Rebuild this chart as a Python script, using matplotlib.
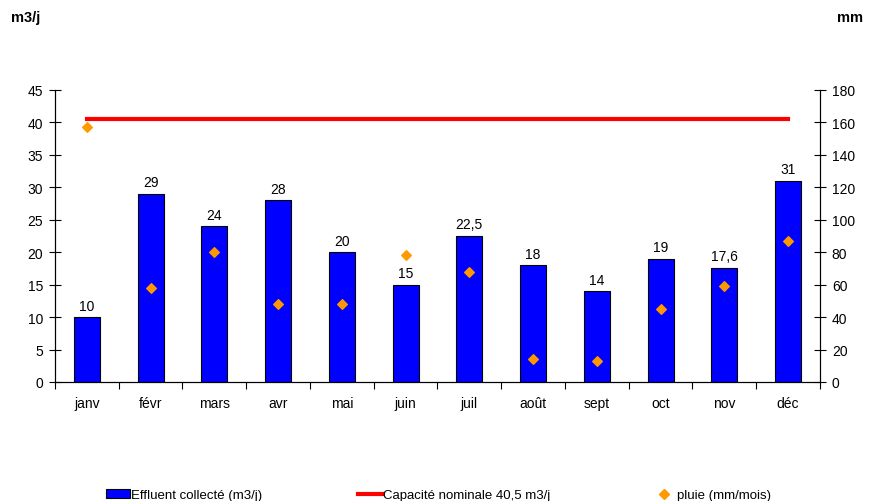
import numpy as np
import matplotlib.pyplot as plt
from matplotlib.lines import Line2D
from matplotlib.patches import Patch

plt.rcParams['font.family'] = ['Liberation Sans', 'DejaVu Sans']

mois = ['janv', 'févr', 'mars', 'avr', 'mai', 'juin', 'juil', 'août', 'sept', 'oct', 'nov', 'déc']
effluent = [10, 29, 24, 28, 20, 15, 22.5, 18, 14, 19, 17.6, 31]
etiquettes = ['10', '29', '24', '28', '20', '15', '22,5', '18', '14', '19', '17,6', '31']
pluie = [157, 58, 80, 48, 48, 78, 68, 14, 13, 45, 59, 87]
capacite = 40.5

fig = plt.figure(figsize=(8.7, 5.02), dpi=100)
ax = fig.add_axes([55 / 870, 1 - 383 / 502, 765 / 870, 292 / 502])
ax2 = ax.twinx()

x = np.arange(len(mois))
ax.bar(x, effluent, width=0.41, color='#0000FF', edgecolor='black', linewidth=0.8, zorder=2)
for xi, v, lab in zip(x, effluent, etiquettes):
    ax.text(xi, v + 0.7, lab, ha='center', va='bottom', fontsize=10)
ax.plot([x[0], x[-1]], [capacite, capacite], color='#FF0000', linewidth=3, zorder=3)
ax2.scatter(x, pluie, marker='D', s=24, color='#FF9900', zorder=4)

ax.set_xlim(-0.5, len(mois) - 0.5)
ax.set_ylim(0, 45)
ax2.set_ylim(0, 180)
ax.set_yticks(np.arange(0, 46, 5))
ax2.set_yticks(np.arange(0, 181, 20))

ax.set_xticks(x)
ax.set_xticklabels(mois, fontsize=10)
ax.set_xticks(np.arange(-0.5, len(mois)), minor=True)
ax.tick_params(axis='x', which='major', length=0, pad=10)
ax.tick_params(axis='x', which='minor', length=5, direction='out', width=0.8)
ax.tick_params(axis='y', direction='inout', length=9, width=0.8, labelsize=10, pad=4)
ax2.tick_params(axis='y', direction='inout', length=9, width=0.8, labelsize=10, pad=4)

for a in (ax, ax2):
    a.spines['top'].set_visible(False)
    for s in ('left', 'right', 'bottom'):
        a.spines[s].set_linewidth(0.8)

fig.text(11 / 870, 1 - 18 / 502, 'm3/j', fontsize=10.5, fontweight='bold', va='center')
fig.text(837 / 870, 1 - 18 / 502, 'mm', fontsize=10.5, fontweight='bold', va='center')

legendes = [
    (Patch(facecolor='#0000FF', edgecolor='black', linewidth=0.8), 'Effluent collecté (m3/j)', 106),
    (Line2D([], [], color='#FF0000', linewidth=3), 'Capacité nominale 40,5 m3/j', 358),
    (Line2D([], [], marker='D', markersize=5, linestyle='none', color='#FF9900'), 'pluie (mm/mois)', 652),
]
for poignee, texte, xpos in legendes:
    fig.legend([poignee], [texte], loc='center left', bbox_to_anchor=(xpos / 870, 1 - 496 / 502),
               frameon=False, fontsize=9.5, handlelength=1.8, handletextpad=0.1,
               borderaxespad=0, borderpad=0)

fig.savefig('out.png', dpi=100)
